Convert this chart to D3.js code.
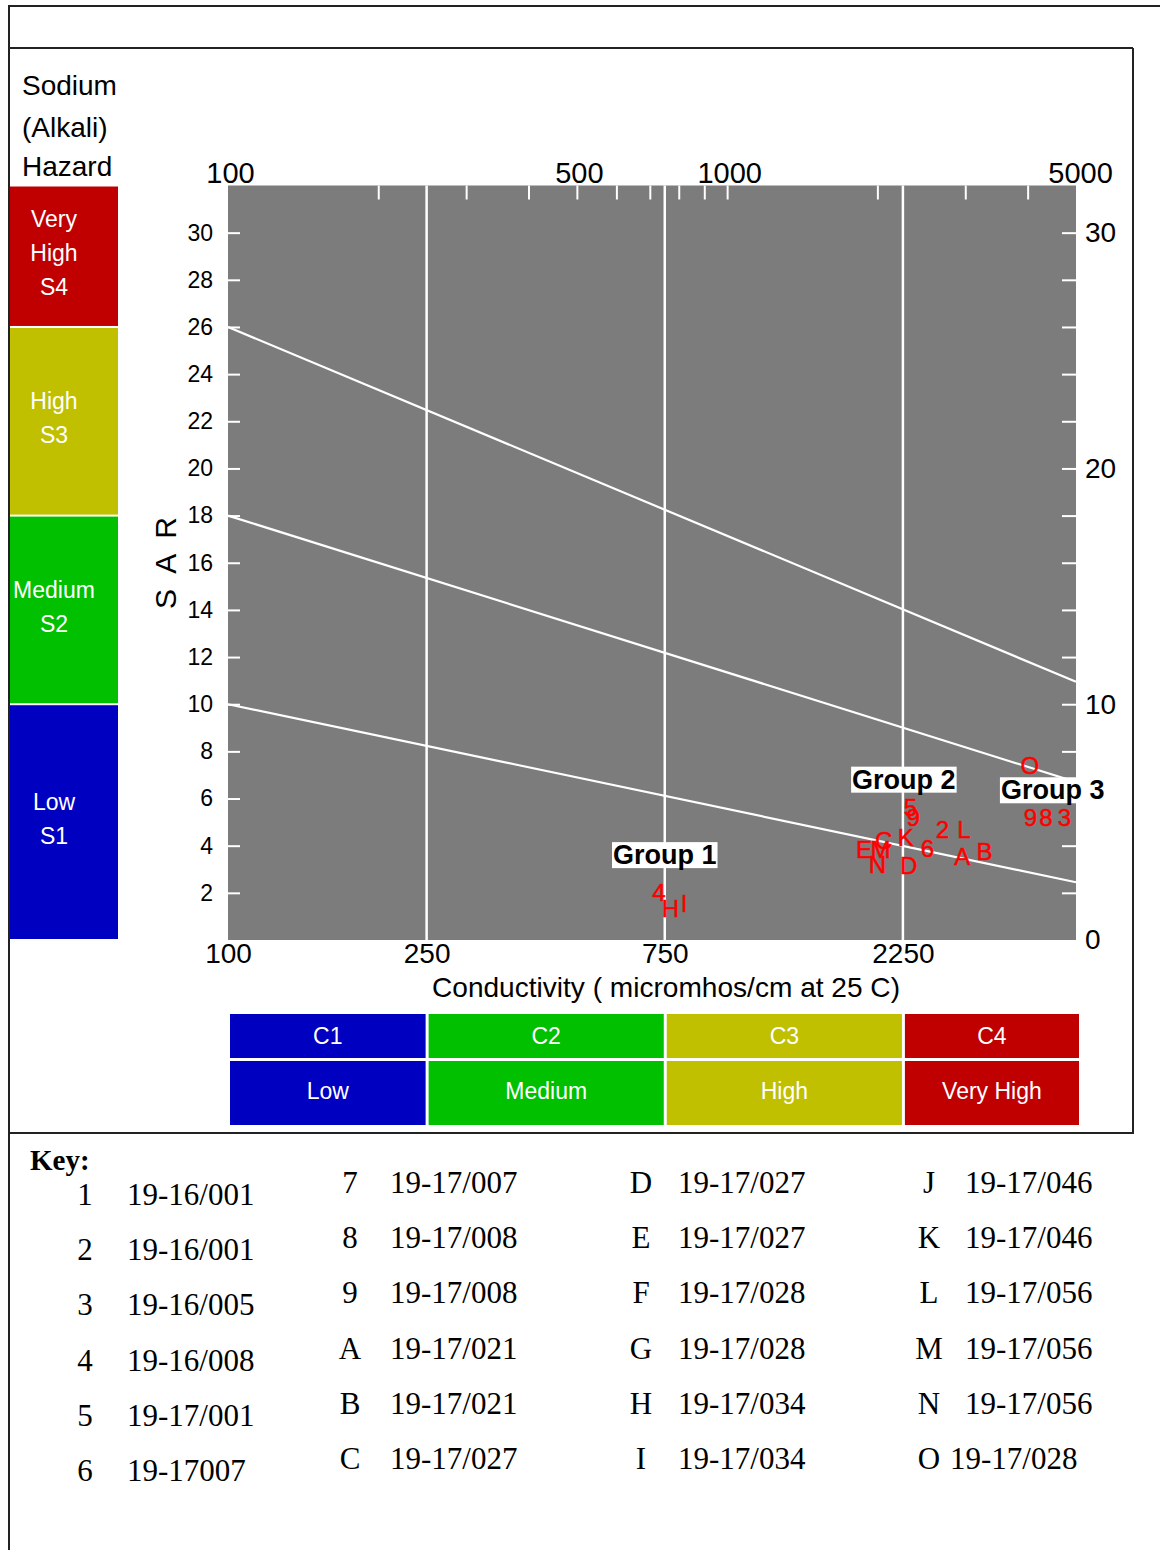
<!DOCTYPE html>
<html>
<head>
<meta charset="utf-8">
<script src="https://cdn.jsdelivr.net/npm/d3@7"></script>
<style>
body { margin: 0; background: #fff; }
svg text { font-family: "Liberation Sans", Arial, sans-serif; }
</style>
</head>
<body>
<svg id="chart" width="1160" height="1550"></svg>
<script>
var svg = d3.select('#chart');

// axis values
const topTicks = [200, 300, 400, 500, 600, 700, 800, 900, 1000, 2000, 3000, 4000];
const topLabels = [100, 500, 1000, 5000];
const bottomLabels = [100, 250, 750, 2250];
const classBounds = [250, 750, 2250];
const sarTicks = [2, 4, 6, 8, 10, 12, 14, 16, 18, 20, 22, 24, 26, 28, 30];
const rightTicks = [2, 4, 6, 8, 10, 12, 14, 16, 18, 20, 22, 24, 26, 28, 30];
const rightLabels = [0, 10, 20, 30];

// salinity classes (bottom) and sodium classes (left)
const cEdges = [100, 250, 750, 2250, 5000];
const cCodes = ["C1", "C2", "C3", "C4"];
const cNames = ["Low", "Medium", "High", "Very High"];
const sEdges = [0, 10, 18, 26, 32];
const sNames = [["Low", "S1"], ["Medium", "S2"], ["High", "S3"], ["Very", "High", "S4"]];
const hazardColors = ["#0000c0", "#00c000", "#c0c000", "#c00000"];

// sodium hazard boundaries: SAR at 100 and at 5000 micromhos
const lineStartSAR = [10, 18, 26];
const lineEndSAR = [2.45, 6.7, 10.95];

// samples
const ptLabels = ["4", "H", "I", "5", "9", "K", "2", "L", "6", "A", "B", "E", "M", "C", "N", "D", "O", "9", "8", "3"];
const ptEC =     [730, 770, 820, 2330, 2360, 2280, 2700, 2980, 2520, 2960, 3280, 1880, 2030, 2060, 2000, 2310, 4040, 4050, 4350, 4740];
const ptSAR =    [2.0, 1.35, 1.55, 5.6, 5.2, 4.35, 4.7, 4.7, 3.9, 3.55, 3.75, 3.85, 3.85, 4.2, 3.2, 3.15, 7.4, 5.2, 5.2, 5.2];

const groupNames = ["Group 1", "Group 2", "Group 3"];
const groupEC = [750, 2260, 4490];
const groupSAR = [3.6, 6.8, 6.35];

// key
const keyIds = ["1","2","3","4","5","6","7","8","9","A","B","C","D","E","F","G","H","I","J","K","L","M","N","O"];
const keyCodes = ["19-16/001","19-16/001","19-16/005","19-16/008","19-17/001","19-17007",
                  "19-17/007","19-17/008","19-17/008","19-17/021","19-17/021","19-17/027",
                  "19-17/027","19-17/027","19-17/028","19-17/028","19-17/034","19-17/034",
                  "19-17/046","19-17/046","19-17/056","19-17/056","19-17/056","19-17/028"];

const x = d3.scaleLog().domain([100, 5000]).range([228, 1076]);
const y = d3.scaleLinear().domain([0, 32]).range([940, 185.5]);

// frame
const frame = svg.append('g').attr('stroke', '#222').attr('stroke-width', 2);
frame.append('line').attr('x1', 9).attr('y1', 6).attr('x2', 1160).attr('y2', 6);
frame.append('line').attr('x1', 9).attr('y1', 5).attr('x2', 9).attr('y2', 1550);
frame.append('line').attr('x1', 9).attr('y1', 48).attr('x2', 1133).attr('y2', 48);
frame.append('line').attr('x1', 1133).attr('y1', 48).attr('x2', 1133).attr('y2', 1134);
frame.append('line').attr('x1', 9).attr('y1', 1133).attr('x2', 1133).attr('y2', 1133);

// left title
svg.append('text').attr('x', 22).attr('y', 95).attr('font-size', 28).text('Sodium');
svg.append('text').attr('x', 22).attr('y', 137).attr('font-size', 28).text('(Alkali)');
svg.append('text').attr('x', 22).attr('y', 176).attr('font-size', 28).text('Hazard');

// sodium hazard bands
const sBand = svg.append('g');
sNames.forEach((names, i) => {
    const top = y(sEdges[i + 1]) + 1, bot = y(sEdges[i]) - 1;
    sBand.append('rect')
        .attr('x', 10).attr('y', top).attr('width', 108).attr('height', bot - top)
        .attr('fill', hazardColors[i]);
    const mid = (top + bot) / 2 - 3;
    names.forEach((t, k) => {
        sBand.append('text')
            .attr('x', 54).attr('y', mid + (k - (names.length - 1) / 2) * 34)
            .attr('text-anchor', 'middle').attr('dominant-baseline', 'central')
            .attr('font-size', 23).attr('fill', '#fff').text(t);
    });
});

// plot area
svg.append('rect')
    .attr('x', x(100)).attr('y', y(32))
    .attr('width', x(5000) - x(100)).attr('height', y(0) - y(32))
    .attr('fill', '#7c7c7c');

// class boundaries
svg.append('g').selectAll('line').data(classBounds)
    .enter().append('line')
        .attr('x1', d => x(d)).attr('x2', d => x(d))
        .attr('y1', y(32)).attr('y2', y(0))
        .attr('stroke', '#fff').attr('stroke-width', 2.5);

// hazard lines
svg.append('g').selectAll('line').data(lineStartSAR)
    .enter().append('line')
        .attr('x1', x(100)).attr('y1', d => y(d))
        .attr('x2', x(5000)).attr('y2', (d, i) => y(lineEndSAR[i]))
        .attr('stroke', '#fff').attr('stroke-width', 2.2);

const styleAxis = (g, size) => {
    g.attr('font-family', null).attr('font-size', size);
    g.select('.domain').remove();
    g.selectAll('.tick line').attr('stroke', '#fff').attr('stroke-width', 2);
    g.selectAll('.tick text').attr('fill', '#000');
};

// top axis
svg.append('g').attr('transform', 'translate(0,' + y(32) + ')')
    .call(d3.axisTop(x).tickValues(topTicks).tickSize(-14).tickFormat(''))
    .call(g => styleAxis(g, 29));
svg.append('g').attr('transform', 'translate(0,' + y(32) + ')')
    .call(d3.axisTop(x).tickValues(topLabels).tickSize(0).tickPadding(3).tickFormat(d3.format('d')))
    .call(g => styleAxis(g, 29))
    .call(g => g.selectAll('.tick text').attr('dx', d => d === 5000 ? 4 : 2));

// bottom axis
svg.append('g').attr('transform', 'translate(0,' + y(0) + ')')
    .call(d3.axisBottom(x).tickValues(bottomLabels).tickSize(0).tickPadding(3).tickFormat(d3.format('d')))
    .call(g => styleAxis(g, 28));

// left axis
svg.append('g').attr('transform', 'translate(' + x(100) + ',0)')
    .call(d3.axisLeft(y).tickValues(sarTicks).tickSize(-12).tickPadding(15))
    .call(g => styleAxis(g, 23));

// right axis
svg.append('g').attr('transform', 'translate(' + x(5000) + ',0)')
    .call(d3.axisRight(y).tickValues(rightTicks).tickSize(-14).tickFormat(''))
    .call(g => styleAxis(g, 28));
svg.append('g').attr('transform', 'translate(' + x(5000) + ',0)')
    .call(d3.axisRight(y).tickValues(rightLabels).tickSize(0).tickPadding(9))
    .call(g => styleAxis(g, 28));

// axis titles
svg.append('text')
    .attr('x', 666).attr('y', 997).attr('text-anchor', 'middle')
    .attr('font-size', 28).attr('textLength', 468).attr('lengthAdjust', 'spacingAndGlyphs')
    .text('Conductivity ( micromhos/cm at 25 C)');
svg.append('text')
    .attr('transform', 'translate(176,563) rotate(-90)')
    .attr('text-anchor', 'middle').attr('font-size', 30)
    .attr('textLength', 92).attr('lengthAdjust', 'spacing')
    .text('S A R');

// sample labels
svg.append('g').selectAll('text').data(ptLabels)
    .enter().append('text')
        .attr('x', (d, i) => x(ptEC[i]))
        .attr('y', (d, i) => y(ptSAR[i]))
        .attr('text-anchor', 'middle').attr('dominant-baseline', 'central')
        .attr('font-size', 24).attr('fill', '#ff0000')
        .attr('stroke', '#ff0000').attr('stroke-width', 0.5)
        .text(d => d);

// group labels
groupNames.forEach((name, i) => {
    const g = svg.append('g');
    const t = g.append('text')
        .attr('x', x(groupEC[i])).attr('y', y(groupSAR[i]))
        .attr('text-anchor', 'middle').attr('dominant-baseline', 'central')
        .attr('font-size', 27).attr('font-weight', 'bold').attr('fill', '#000')
        .text(name);
    const b = t.node().getBBox();
    g.insert('rect', 'text')
        .attr('x', b.x - 1).attr('y', b.y + 2)
        .attr('width', b.width + 2).attr('height', b.height - 4)
        .attr('fill', '#fff');
});

// conductivity class bands
const cBand = svg.append('g');
cCodes.forEach((code, i) => {
    const x0 = x(cEdges[i]) + 2, x1 = x(cEdges[i + 1]) + (i === 3 ? 3 : -1);
    cBand.append('rect').attr('x', x0).attr('y', 1014).attr('width', x1 - x0).attr('height', 44)
        .attr('fill', hazardColors[i]);
    cBand.append('rect').attr('x', x0).attr('y', 1061).attr('width', x1 - x0).attr('height', 64)
        .attr('fill', hazardColors[i]);
    cBand.append('text').attr('x', (x0 + x1) / 2).attr('y', 1036)
        .attr('text-anchor', 'middle').attr('dominant-baseline', 'central')
        .attr('font-size', 23).attr('fill', '#fff').text(code);
    cBand.append('text').attr('x', (x0 + x1) / 2).attr('y', 1091)
        .attr('text-anchor', 'middle').attr('dominant-baseline', 'central')
        .attr('font-size', 23).attr('fill', '#fff').text(cNames[i]);
});

// key
const serif = '"Liberation Serif", "Times New Roman", serif';
const key = svg.append('g');
key.append('text').attr('x', 30).attr('y', 1170)
    .attr('font-size', 29).attr('font-weight', 'bold')
    .style('font-family', serif).text('Key:');
const colId = [85, 350, 641, 929];
const colCode = [127, 390, 678, 965];
keyIds.forEach((id, i) => {
    const c = Math.floor(i / 6), r = i % 6;
    const cy = (c === 0 ? 1195 : 1183) + r * 55.2;
    key.append('text').attr('x', colId[c]).attr('y', cy + 10)
        .attr('text-anchor', 'middle').attr('font-size', 31)
        .style('font-family', serif).text(id);
    // last entry is typed with a single space in the source
    key.append('text').attr('x', id === 'O' ? colId[c] + 21 : colCode[c]).attr('y', cy + 10)
        .attr('font-size', 31)
        .style('font-family', serif).text(keyCodes[i]);
});
</script>
</body>
</html>
